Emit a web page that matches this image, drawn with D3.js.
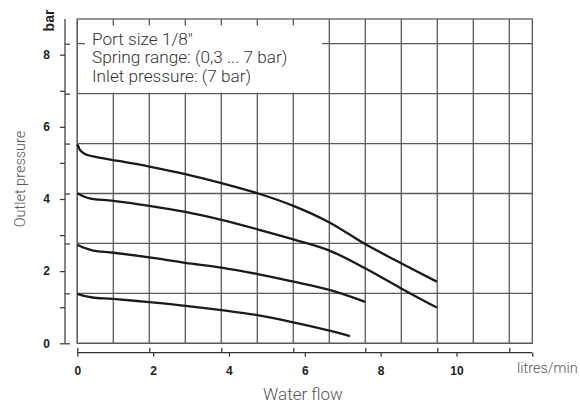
<!DOCTYPE html>
<html>
<head>
<meta charset="utf-8">
<script src="https://cdn.jsdelivr.net/npm/d3@7"></script>
<style>
  html, body { margin: 0; padding: 0; background: #fff; }
  svg { display: block; }
</style>
</head>
<body>
<svg id="chart" width="580" height="406"></svg>
<script>
// ---- data ----
const flowTicks = [0, 2, 4, 6, 8, 10, 12];
const flowLabels = ["0", "2", "4", "6", "8", "10", ""];
const pressureTicks = [0, 1, 2, 3, 4, 5, 6, 7, 8];
const pressureLabels = ["0", "", "2", "", "4", "", "6", "", "8"];

const flow1 = [0, 0.03, 0.07, 0.2, 0.51, 0.95, 1.9, 2.85, 3.8, 4.75, 5.7, 6.65, 7.59, 8.54, 9.48];
const pres1 = [5.52, 5.45, 5.36, 5.25, 5.16, 5.08, 4.90, 4.69, 4.44, 4.16, 3.81, 3.35, 2.75, 2.22, 1.71];
const flow2 = [0, 0.15, 0.35, 0.95, 1.9, 2.85, 3.8, 4.75, 5.7, 6.65, 7.59, 8.54, 9.48];
const pres2 = [4.16, 4.08, 4.01, 3.95, 3.81, 3.64, 3.42, 3.16, 2.88, 2.57, 2.08, 1.52, 0.99];
const flow3 = [0, 0.15, 0.42, 0.95, 1.9, 2.85, 3.8, 4.75, 5.7, 6.65, 7.59];
const pres3 = [2.73, 2.66, 2.57, 2.51, 2.38, 2.23, 2.10, 1.92, 1.71, 1.48, 1.15];
const flow4 = [0, 0.15, 0.4, 0.95, 1.9, 2.85, 3.8, 4.75, 5.7, 6.65, 7.19];
const pres4 = [1.37, 1.32, 1.27, 1.23, 1.14, 1.04, 0.92, 0.78, 0.58, 0.35, 0.20];

const infoLines = ["Port size 1/8\"", "Spring range: (0,3 ... 7 bar)", "Inlet pressure: (7 bar)"];

// background grid (independent of data scale in the original drawing)
const gridCols = d3.range(0, 13);   // 13 vertical lines
const gridRows = d3.range(0, 7);    // 7 horizontal lines

// ---- layout ----
const svg = d3.select("#chart");
const x = d3.scaleLinear().domain([0, 12]).range([77.3, 532.3]);
const y = d3.scaleLinear().domain([0, 8]).range([343.3, 54.7]);
const gx = d3.scaleLinear().domain([0, 12]).range([77.3, 509.3]);
const gy = d3.scaleLinear().domain([0, 6]).range([343.3, 43.7]);
const frameTop = 19;
const gridColor = "#5a5a5a";

// grid
const grid = svg.append("g");
grid.selectAll("line.v").data(gridCols).join("line")
  .attr("x1", d => gx(d)).attr("x2", d => gx(d))
  .attr("y1", frameTop).attr("y2", y(0))
  .attr("stroke", gridColor).attr("stroke-width", 1.3);
grid.selectAll("line.h").data(gridRows).join("line")
  .attr("x1", x(0)).attr("x2", x(12))
  .attr("y1", d => gy(d)).attr("y2", d => gy(d))
  .attr("stroke", gridColor).attr("stroke-width", 1.3);
// frame
grid.append("rect")
  .attr("x", x(0)).attr("y", frameTop)
  .attr("width", x(12) - x(0)).attr("height", y(0) - frameTop)
  .attr("fill", "none").attr("stroke", gridColor).attr("stroke-width", 1.3);

// info box (covers grid)
svg.append("rect")
  .attr("x", 85).attr("y", 25.5)
  .attr("width", 237).attr("height", gy(5) - 26.5)
  .attr("fill", "#fff");
svg.append("g").selectAll("text").data(infoLines).join("text")
  .attr("x", 92)
  .attr("y", (d, i) => 45 + i * 18.4)
  .attr("font-family", "Roboto, sans-serif")
  .attr("font-weight", 300)
  .attr("font-size", 17.2)
  .attr("fill", "#333")
  .text(d => d);

// curves
const line = d3.line()
  .x(d => x(d[0])).y(d => y(d[1]))
  .curve(d3.curveCatmullRom.alpha(0.5));
const series = [
  d3.zip(flow1, pres1),
  d3.zip(flow2, pres2),
  d3.zip(flow3, pres3),
  d3.zip(flow4, pres4)
];
svg.append("g").selectAll("path").data(series).join("path")
  .attr("d", line)
  .attr("fill", "none")
  .attr("stroke", "#1a1a1a")
  .attr("stroke-width", 2.3);

// left axis
const axisX = 65;
const yAxis = svg.append("g").attr("transform", `translate(${axisX},0)`)
  .call(d3.axisLeft(y).tickValues(pressureTicks).tickSize(5).tickPadding(10)
    .tickSizeOuter(0).tickFormat((d, i) => pressureLabels[i]));
yAxis.select(".domain").remove();
const yAxis2 = svg.append("g").attr("transform", `translate(${axisX},0)`)
  .call(d3.axisRight(gy).tickValues(gridRows).tickSize(5).tickSizeOuter(0).tickFormat(""));
yAxis2.select(".domain").remove();
svg.append("line").attr("x1", axisX).attr("x2", axisX)
  .attr("y1", frameTop).attr("y2", y(0))
  .attr("stroke", "#333").attr("stroke-width", 1.2);

// bottom axis
const axisY = 352.7;
const xAxis = svg.append("g").attr("transform", `translate(0,${axisY})`)
  .call(d3.axisBottom(x).tickValues(flowTicks).tickSize(4).tickPadding(9.3)
    .tickSizeOuter(0).tickFormat((d, i) => flowLabels[i]));
xAxis.select(".domain").remove();
const xAxis2 = svg.append("g").attr("transform", `translate(0,${axisY})`)
  .call(d3.axisTop(gx).tickValues(d3.range(0, 13, 2)).tickSize(5).tickSizeOuter(0).tickFormat(""));
xAxis2.select(".domain").remove();
svg.append("line").attr("x1", x(0)).attr("x2", x(12))
  .attr("y1", axisY).attr("y2", axisY)
  .attr("stroke", "#333").attr("stroke-width", 1.2);

svg.selectAll(".tick line").attr("stroke", "#333").attr("stroke-width", 1.2);
svg.selectAll(".tick text")
  .attr("font-family", "'Liberation Sans', Arial, sans-serif")
  .attr("font-weight", "bold")
  .attr("font-size", 12)
  .attr("fill", "#222");

// axis titles
svg.append("text")
  .attr("x", 303).attr("y", 400)
  .attr("text-anchor", "middle")
  .attr("font-family", "Roboto, sans-serif")
  .attr("font-weight", 300)
  .attr("font-size", 17)
  .attr("fill", "#555")
  .text("Water flow");
svg.append("text")
  .attr("x", 517).attr("y", 373.3)
  .attr("font-family", "Roboto, sans-serif")
  .attr("font-weight", 300)
  .attr("font-size", 14.5)
  .attr("fill", "#555")
  .text("litres/min");
svg.append("text")
  .attr("transform", "translate(25,179) rotate(-90)")
  .attr("text-anchor", "middle")
  .attr("font-family", "Roboto, sans-serif")
  .attr("font-weight", 300)
  .attr("font-size", 14.5)
  .attr("fill", "#555")
  .text("Outlet pressure");
svg.append("text")
  .attr("transform", "translate(54,20.5) rotate(-90)")
  .attr("text-anchor", "middle")
  .attr("font-family", "'Liberation Sans', Arial, sans-serif")
  .attr("font-weight", "bold")
  .attr("font-size", 14)
  .attr("fill", "#222")
  .text("bar");
</script>
</body>
</html>
